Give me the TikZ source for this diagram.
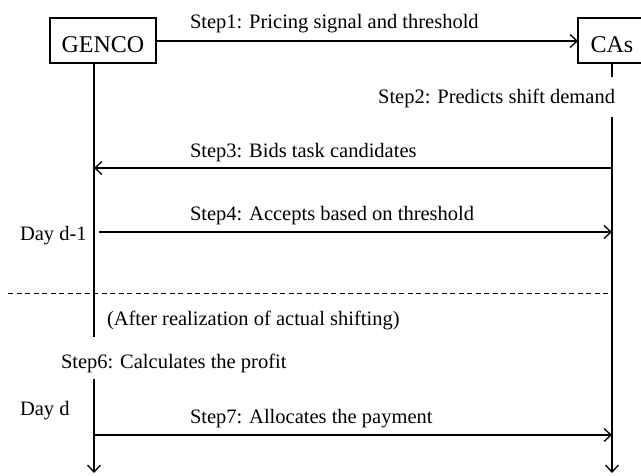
\documentclass[tikz,border=0pt]{standalone}
\usepackage{fontspec}
\setmainfont{Liberation Serif}
\usetikzlibrary{arrows.meta}
\begin{document}
\begin{tikzpicture}[x=1pt,y=-1pt,
  every node/.style={inner sep=0pt, outer sep=0pt},
  actor/.style={draw, line width=1.1pt, minimum height=45pt,
    font=\fontsize{24}{28}\selectfont, text height=23pt, text depth=0pt},
  lbl/.style={font=\fontsize{20.5}{24}\selectfont},
  life/.style={line width=1.1pt},
  msg/.style={line width=1.1pt, -{Straight Barb[length=7pt,width=13pt,line width=1.3pt]}},
  sep/.style={line width=0.9pt, dash pattern=on 5pt off 3.5pt}]
\useasboundingbox (0,0) rectangle (641,475);

% actors
\node[actor, minimum width=106pt] (genco) at (103,40.5) {GENCO};
\node[actor, minimum width=68pt] (cas) at (612,40.5) {CAs};

% lifeline points
\coordinate (g1) at (94,63);
\coordinate (g2) at (94,337);
\coordinate (g3) at (94,379);
\coordinate (gend) at (94,473);
\coordinate (c1) at (612,63);
\coordinate (c2) at (612,77);
\coordinate (c3) at (612,117);
\coordinate (cend) at (612,473);

% lifelines
\draw[life] (g1) -- (g2);
\draw[msg] (g3) -- (gend);
\draw[life] (c1) -- (c2);
\draw[msg] (c3) -- (cend);

% step 1
\draw[msg] (genco.east |- 0,41) -- (cas.west |- 0,41);
\node[lbl, anchor=base west] (s1) at (190,28) {Step1: Pricing signal and threshold};

% step 2
\node[lbl, anchor=base east] (s2) at (615,103) {Step2: Predicts shift demand};

% step 3
\coordinate (s3a) at (612,168);
\coordinate (s3b) at (94,168);
\draw[msg] (s3a) -- (s3b);
\node[lbl, anchor=base west] (s3) at (190,157) {Step3: Bids task candidates};

% step 4
\coordinate (s4a) at (99,232);
\coordinate (s4b) at (612,232);
\draw[msg] (s4a) -- (s4b);
\node[lbl, anchor=base west] (s4) at (190,220) {Step4: Accepts based on threshold};
\node[lbl, anchor=base west] (dayd1) at (20,240) {Day d-1};

% day boundary
\coordinate (sepa) at (8,293);
\coordinate (sepb) at (612,293);
\draw[sep] (sepa) -- (sepb);
\node[lbl, anchor=base west] (after) at (107,325) {(After realization of actual shifting)};

% step 6
\node[lbl, anchor=base west] (s6) at (61,368) {Step6: Calculates the profit};
\node[lbl, anchor=base west] (dayd) at (20,415) {Day d};

% step 7
\coordinate (s7a) at (94,435);
\coordinate (s7b) at (612,435);
\draw[msg] (s7a) -- (s7b);
\node[lbl, anchor=base west] (s7) at (190,423) {Step7: Allocates the payment};
\end{tikzpicture}
\end{document}
